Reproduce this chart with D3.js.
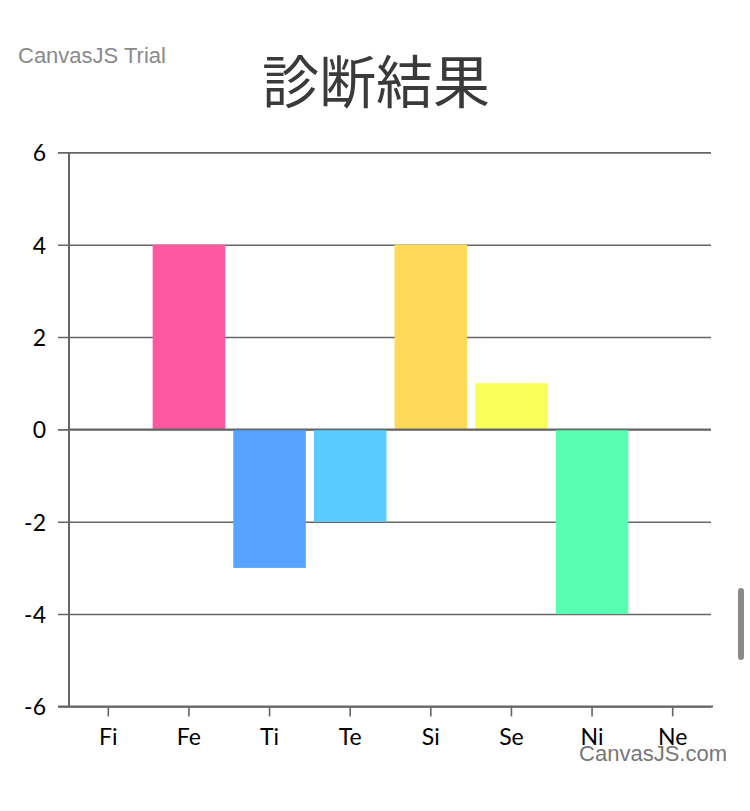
<!DOCTYPE html>
<html>
<head>
<meta charset="utf-8">
<script src="https://cdn.jsdelivr.net/npm/d3@7"></script>
<style>
  html, body { margin: 0; padding: 0; background: #fff; overflow: hidden; }
  svg { display: block; }
</style>
</head>
<body>
<svg id="chart" width="750" height="811"></svg>
<script>
const categories = ["Fi", "Fe", "Ti", "Te", "Si", "Se", "Ni", "Ne"];
const values = [0, 4, -3, -2, 4, 1, -4, 0];
const colors = ["#58A3FF", "#FF58A3", "#58A3FF", "#58CCFF", "#FFD958", "#FAFF58", "#58FFB2", "#FF5858"];
const yTicks = [-6, -4, -2, 0, 2, 4, 6];
const titleText = "診断結果";

(function () {
const svg = d3.select("#chart");
const pl = 69, pr = 711, pt = 152.4, pb = 706.4;

const x = d3.scaleBand().domain(categories).range([pl - 1, pr + 2]).paddingInner(0.1).paddingOuter(0.05);
const y = d3.scaleLinear().domain([-6, 6]).range([pb, pt]);

// title
svg.append("text").attr("x", 376).attr("y", 103).attr("text-anchor", "middle")
  .attr("font-family", "'Noto Sans CJK JP', sans-serif").attr("font-size", 57)
  .attr("fill", "#3a3a3a").text(titleText);

svg.append("text").attr("x", 18).attr("y", 63)
  .attr("font-family", "'Liberation Sans', Arial, sans-serif").attr("font-size", 22)
  .attr("fill", "#8a8a8a").text("CanvasJS Trial");

// gridlines + y axis
const yAxis = d3.axisLeft(y).tickValues(yTicks).tickSize(-(pr - pl)).tickPadding(23).tickFormat(d => String(d));
const gy = svg.append("g").attr("transform", `translate(${pl},0)`).call(yAxis);
gy.select(".domain").remove();
gy.selectAll(".tick line").attr("stroke", "#666").attr("stroke-width", 1.6).attr("x1", -11);
gy.selectAll(".tick text").attr("font-family", "Lato, sans-serif").attr("font-size", 23)
  .attr("fill", "#000").attr("dy", "0.36em");
svg.append("line").attr("x1", pl).attr("x2", pl).attr("y1", pt).attr("y2", pb)
  .attr("stroke", "#666").attr("stroke-width", 2);

// bars
svg.append("g").selectAll("rect").data(categories).join("rect")
  .attr("x", d => x(d))
  .attr("width", x.bandwidth())
  .attr("y", (d, i) => y(Math.max(0, values[i])))
  .attr("height", (d, i) => Math.abs(y(values[i]) - y(0)))
  .attr("fill", (d, i) => colors[i]);

// zero line on top
svg.append("line").attr("x1", pl).attr("x2", pr).attr("y1", y(0)).attr("y2", y(0))
  .attr("stroke", "#666").attr("stroke-width", 1.6);

// x axis
const xAxis = d3.axisBottom(x).tickSize(10).tickPadding(12);
const gx = svg.append("g").attr("transform", `translate(0,${pb})`).call(xAxis);
gx.select(".domain").remove();
gx.selectAll(".tick line").attr("stroke", "#666").attr("stroke-width", 1.6);
gx.selectAll(".tick text").attr("font-family", "Lato, sans-serif").attr("font-size", 23).attr("fill", "#000");
svg.append("line").attr("x1", pl - 11).attr("x2", pr + 2).attr("y1", pb).attr("y2", pb)
  .attr("stroke", "#666").attr("stroke-width", 2);

svg.append("text").attr("x", 727).attr("y", 761).attr("text-anchor", "end")
  .attr("font-family", "'Liberation Sans', Arial, sans-serif").attr("font-size", 22)
  .attr("fill", "#777").text("CanvasJS.com");

// scrollbar indicator
svg.append("rect").attr("x", 738).attr("y", 588).attr("width", 6).attr("height", 72)
  .attr("rx", 3).attr("fill", "#8a8a8a");
})();
</script>
</body>
</html>
